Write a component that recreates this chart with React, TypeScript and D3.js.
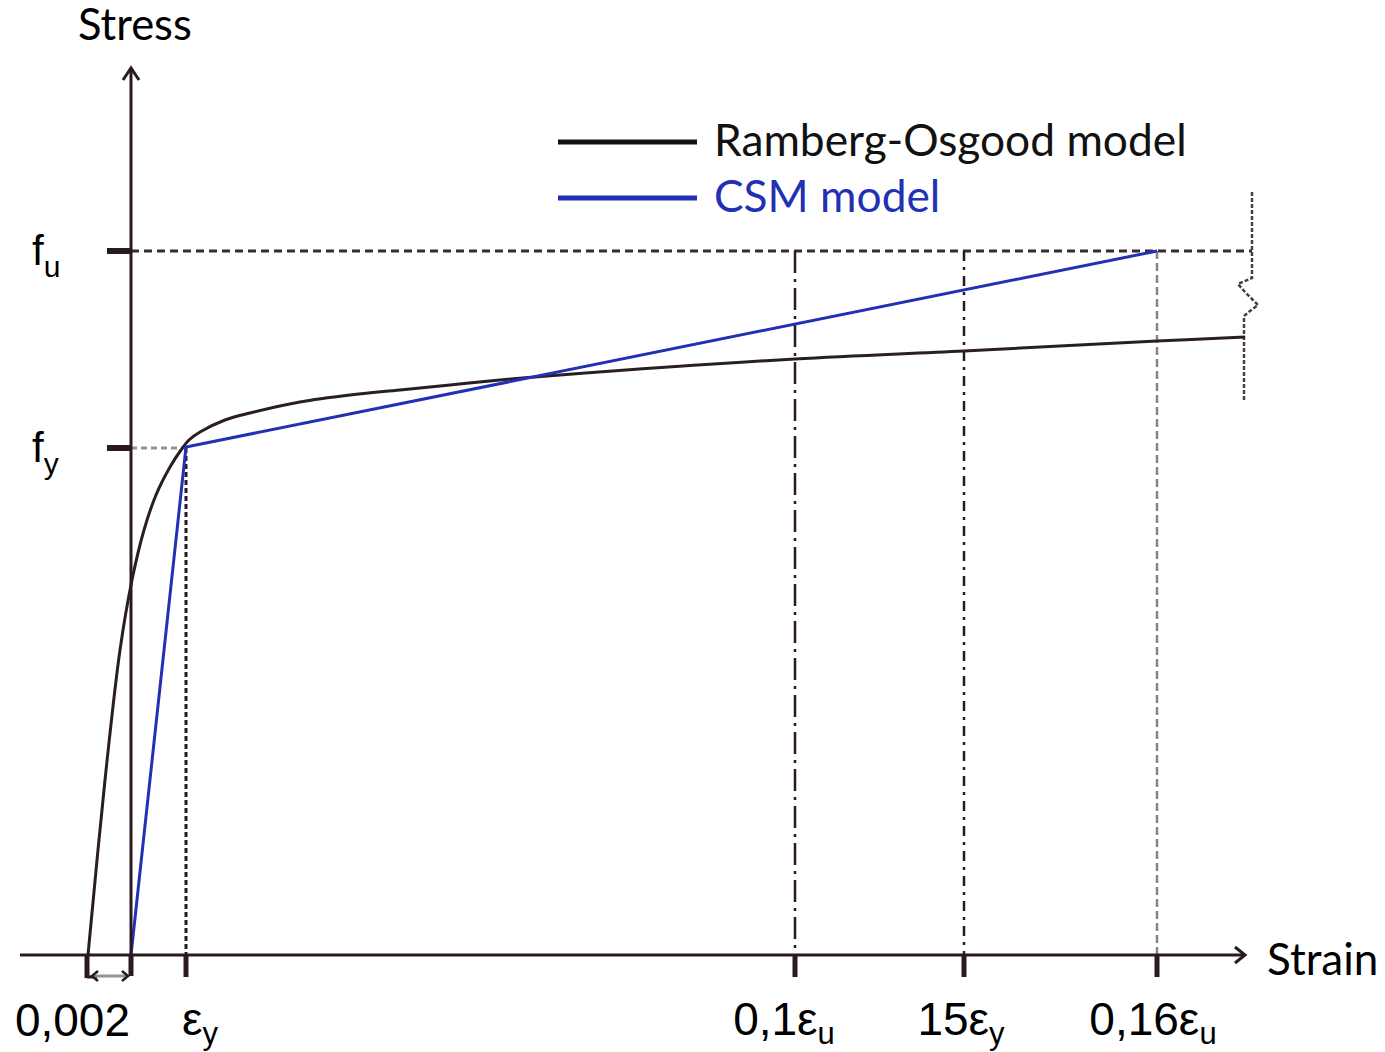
import React from "react";
import * as d3 from "d3";

// Strain / stress values in normalised units (origin at 0,0)
const strainTicks = [
  { label: "ε", sub: "y", value: 0.55, dx: 14 },
  { label: "0,1ε", sub: "u", value: 6.64, dx: -11 },
  { label: "15ε", sub: "y", value: 8.33, dx: -3 },
  { label: "0,16ε", sub: "u", value: 10.26, dx: -4 },
];
const stressTicks = [
  { label: "f", sub: "u", value: 7.04 },
  { label: "f", sub: "y", value: 5.07 },
];
const offsetStrain = -0.44; // 0,002 plastic offset
const offsetLabel = "0,002";
const epsY = 0.55;
const eps01u = 6.64;
const eps15y = 8.33;
const eps016u = 10.26;
const fY = 5.07;
const fU = 7.04;
const strainMin = -1.11;
const strainMax = 11.14;
const stressMax = 8.87;

const rambergOsgood: [number, number][] = [
  [-0.43, 0],
  [-0.26, 1.75],
  [-0.11, 3.05],
  [0.01, 3.75],
  [0.13, 4.25],
  [0.25, 4.6],
  [0.39, 4.88],
  [0.5, 5.05],
  [0.58, 5.15],
  [0.69, 5.23],
  [0.94, 5.35],
  [1.19, 5.42],
  [1.69, 5.53],
  [2.19, 5.6],
  [2.69, 5.65],
  [3.19, 5.7],
  [3.69, 5.75],
  [4.29, 5.8],
  [6.64, 5.96],
  [8.33, 6.04],
  [10.26, 6.14],
  [11.14, 6.18],
];
const csm: [number, number][] = [
  [0, 0],
  [0.55, 5.08],
  [10.26, 7.04],
];
const breakMark: [number, number][] = [
  [11.21, 7.63],
  [11.21, 6.77],
  [11.07, 6.71],
  [11.14, 6.63],
  [11.27, 6.5],
  [11.19, 6.44],
  [11.13, 6.39],
  [11.13, 5.55],
];

const legendItems = [
  { name: "Ramberg-Osgood model", color: "#111111" },
  { name: "CSM model", color: "#2230b4" },
];

const W = 1385;
const H = 1052;
const AXIS = "#2a1a1f";
const BLUE = "#2230b4";
const LABEL_FONT = "'Liberation Sans', Arial, sans-serif";
const TITLE_FONT = "Lato, 'Open Sans', sans-serif";

export default function App() {
  const x = d3.scaleLinear().domain([0, 10]).range([131, 1131]);
  const y = d3.scaleLinear().domain([0, 10]).range([955, -45]);

  const roLine = d3
    .line<[number, number]>()
    .x((d) => x(d[0]))
    .y((d) => y(d[1]))
    .curve(d3.curveCatmullRom.alpha(0.5));
  const straight = d3
    .line<[number, number]>()
    .x((d) => x(d[0]))
    .y((d) => y(d[1]));

  const x0 = x(0);
  const y0 = y(0);

  return (
    <svg
      width={W}
      height={H}
      style={{ position: "absolute", left: 0, top: 0, background: "#fff" }}
    >
      {/* reference lines */}
      <line x1={x0} x2={x(11.21)} y1={y(fU)} y2={y(fU)} stroke="#3a2a2e" strokeWidth={3} strokeDasharray="8 5" />
      <line x1={x0} x2={x(epsY)} y1={y(fY)} y2={y(fY)} stroke="#9a8f91" strokeWidth={3} strokeDasharray="6 4" />
      <line x1={x(epsY)} x2={x(epsY)} y1={y(fY)} y2={y0} stroke={AXIS} strokeWidth={3} strokeDasharray="5 3" />
      <line x1={x(eps01u)} x2={x(eps01u)} y1={y(fU)} y2={y0} stroke={AXIS} strokeWidth={2.5} strokeDasharray="22 6 3 6" />
      <line x1={x(eps15y)} x2={x(eps15y)} y1={y(fU)} y2={y0} stroke={AXIS} strokeWidth={2.5} strokeDasharray="10 6 3 6" />
      <line x1={x(eps016u)} x2={x(eps016u)} y1={y(fU)} y2={y0} stroke="#8a8385" strokeWidth={2.5} strokeDasharray="8 4" />

      {/* break mark */}
      <path d={straight(breakMark) || ""} fill="none" stroke="#4a3c40" strokeWidth={2.5} strokeDasharray="4 2" />

      {/* curves */}
      <path d={roLine(rambergOsgood) || ""} fill="none" stroke="#2a1e22" strokeWidth={3} />
      <path d={straight(csm) || ""} fill="none" stroke={BLUE} strokeWidth={3} />

      {/* axes */}
      <line x1={x(strainMin)} x2={x(strainMax)} y1={y0} y2={y0} stroke={AXIS} strokeWidth={3} />
      <path
        d={`M${x(strainMax) - 10},${y0 - 8} L${x(strainMax)},${y0} L${x(strainMax) - 10},${y0 + 8}`}
        fill="none"
        stroke={AXIS}
        strokeWidth={3}
      />
      <line x1={x0} x2={x0} y1={y0} y2={y(stressMax)} stroke={AXIS} strokeWidth={3} />
      <path
        d={`M${x0 - 8},${y(stressMax) + 12} L${x0},${y(stressMax)} L${x0 + 8},${y(stressMax) + 12}`}
        fill="none"
        stroke={AXIS}
        strokeWidth={3}
      />

      {/* stress ticks */}
      {stressTicks.map((t) => (
        <g key={t.sub}>
          <line x1={x0 - 24} x2={x0} y1={y(t.value)} y2={y(t.value)} stroke={AXIS} strokeWidth={6} />
          <text x={32} y={y(t.value) + 14} fontFamily={LABEL_FONT} fontSize={42} fill="#000">
            {t.label}
            <tspan fontSize={30} dy={12}>
              {t.sub}
            </tspan>
          </text>
        </g>
      ))}

      {/* strain ticks */}
      {strainTicks.map((t) => (
        <g key={t.label + t.sub}>
          <line x1={x(t.value)} x2={x(t.value)} y1={y0} y2={y0 + 22} stroke={AXIS} strokeWidth={5} />
          <text
            x={x(t.value) + t.dx}
            y={1035}
            textAnchor="middle"
            fontFamily={LABEL_FONT}
            fontSize={46}
            fill="#000"
          >
            {t.label}
            <tspan fontSize={31} dy={9}>
              {t.sub}
            </tspan>
          </text>
        </g>
      ))}

      {/* 0,002 offset marker */}
      <line x1={x(offsetStrain)} x2={x(offsetStrain)} y1={y0} y2={y0 + 23} stroke={AXIS} strokeWidth={5} />
      <line x1={x0} x2={x0} y1={y0} y2={y0 + 21} stroke={AXIS} strokeWidth={5} />
      <line x1={x(offsetStrain)} x2={x(offsetStrain) + 10} y1={y0 + 22} y2={y0 + 22} stroke={AXIS} strokeWidth={3} />
      <line x1={x(offsetStrain) + 6} x2={x0 - 4} y1={y0 + 21} y2={y0 + 21} stroke="#9a8f91" strokeWidth={3} />
      <path
        d={`M${x(offsetStrain) + 11},${y0 + 16} L${x(offsetStrain) + 5},${y0 + 21} L${x(offsetStrain) + 11},${y0 + 26}
            M${x0 - 9},${y0 + 16} L${x0 - 3},${y0 + 21} L${x0 - 9},${y0 + 26}`}
        fill="none"
        stroke={AXIS}
        strokeWidth={2.5}
      />
      <text x={130} y={1036} textAnchor="end" fontFamily={LABEL_FONT} fontSize={46} fill="#000">
        {offsetLabel}
      </text>

      {/* axis titles */}
      <text x={78} y={40} fontFamily={TITLE_FONT} fontSize={43.5} fill="#000">
        Stress
      </text>
      <text x={1267} y={975} fontFamily={TITLE_FONT} fontSize={44} fill="#000">
        Strain
      </text>

      {/* legend */}
      {legendItems.map((item, i) => (
        <g key={item.name} transform={`translate(558, ${142 + i * 56})`}>
          <line x1={0} x2={139} y1={0} y2={0} stroke={item.color} strokeWidth={5} />
          <text x={156} y={14} fontFamily={TITLE_FONT} fontSize={44.3} fill={item.color}>
            {item.name}
          </text>
        </g>
      ))}
    </svg>
  );
}
